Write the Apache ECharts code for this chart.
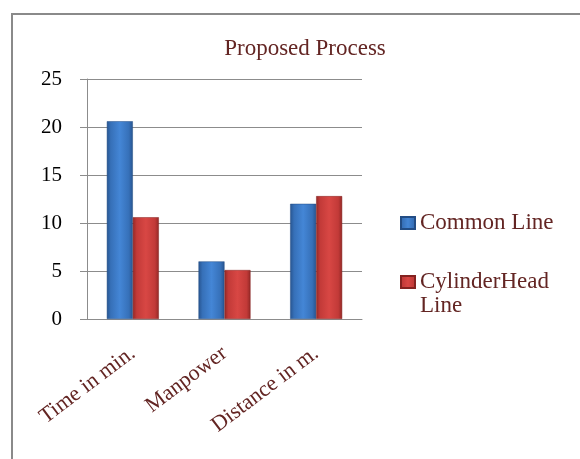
<!DOCTYPE html>
<html>
<head>
<meta charset="utf-8">
<script src="https://cdn.jsdelivr.net/npm/echarts@6/dist/echarts.min.js"></script>
<style>
  html, body { margin: 0; padding: 0; background: #ffffff; }
  #chart { width: 580px; height: 459px; }
</style>
</head>
<body>
<div id="chart"></div>
<script>
// Chart data
const categories = ['Time in min.', 'Manpower', 'Distance in m.'];
const commonLine = [20.6, 6.0, 12.0];
const cylinderHeadLine = [10.6, 5.1, 12.8];
const yTicks = [0, 5, 10, 15, 20, 25];

const serif = "'Liberation Serif', 'Times New Roman', serif";
const brown = '#632523';
const gridGray = '#8c8c8c';

function barGradient(edge, mid, centre) {
  return {
    type: 'linear', x: 0, y: 0, x2: 1, y2: 0,
    colorStops: [
      { offset: 0, color: edge },
      { offset: 0.15, color: mid },
      { offset: 0.5, color: centre },
      { offset: 0.85, color: mid },
      { offset: 1, color: edge }
    ]
  };
}

const chart = echarts.init(document.getElementById('chart'), null, { renderer: 'canvas' });

chart.setOption({
  animation: false,
  backgroundColor: '#ffffff',
  graphic: [{
    type: 'rect',
    shape: { x: 12, y: 14, width: 620, height: 500 },
    style: { fill: 'none', stroke: '#8a8a8a', lineWidth: 2 },
    silent: true,
    z: -10
  }],
  title: {
    text: 'Proposed Process',
    left: 300,
    textAlign: 'center',
    top: 32,
    textStyle: { fontFamily: serif, fontSize: 23, fontWeight: 'normal', color: brown }
  },
  legend: {
    orient: 'vertical',
    left: 395,
    top: 206,
    itemWidth: 14,
    itemHeight: 12,
    itemGap: 11,
    icon: 'rect',
    formatter: function (name) {
      return name === 'CylinderHead Line' ? '\nCylinderHead\nLine' : name;
    },
    textStyle: { fontFamily: serif, fontSize: 23, color: brown, lineHeight: 24 },
    data: ['Common Line', 'CylinderHead Line']
  },
  grid: { left: 87, top: 79, right: 218, bottom: 140, containLabel: false },
  xAxis: {
    type: 'category',
    data: categories,
    axisLine: { show: true, lineStyle: { color: gridGray, width: 1 } },
    axisTick: { show: false },
    axisLabel: {
      interval: 0,
      rotate: 37,
      margin: 32,
      fontFamily: serif,
      fontSize: 22,
      color: brown
    }
  },
  yAxis: {
    type: 'value',
    min: 0,
    max: 25,
    interval: 5,
    axisLine: { show: true, lineStyle: { color: gridGray, width: 1 } },
    axisTick: { show: true, length: 7, lineStyle: { color: gridGray } },
    splitLine: { show: true, lineStyle: { color: gridGray, width: 1 } },
    axisLabel: {
      margin: 25,
      fontFamily: serif,
      fontSize: 21,
      color: '#000000',
      formatter: function (v) { return yTicks.indexOf(v) >= 0 ? String(v) : ''; }
    }
  },
  series: [
    {
      name: 'Common Line',
      type: 'bar',
      data: commonLine,
      barWidth: 26,
      barGap: '0%',
      itemStyle: {
        color: barGradient('#27548f', '#3670b8', '#4486d6'),
        borderColor: '#234d85',
        borderWidth: 0.5
      }
    },
    {
      name: 'CylinderHead Line',
      type: 'bar',
      data: cylinderHeadLine,
      barWidth: 26,
      barGap: '0%',
      itemStyle: {
        color: barGradient('#932826', '#c23a38', '#d84744'),
        borderColor: '#842220',
        borderWidth: 0.5
      }
    }
  ]
});
</script>
</body>
</html>
